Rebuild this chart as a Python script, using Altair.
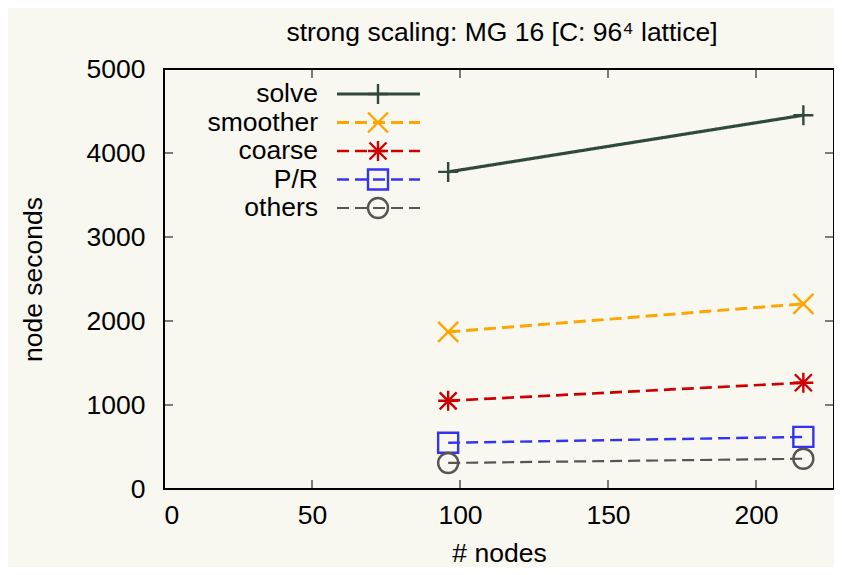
import altair as alt
import pandas as pd

# ---- data ----
nodes = [96, 216]
series = ["solve", "smoother", "coarse", "P/R", "others"]
solve = [3775, 4450]
smoother = [1870, 2205]
coarse = [1050, 1265]
pr = [550, 620]
others = [310, 360]

x_ticks = [0, 50, 100, 150, 200]
y_ticks = [0, 1000, 2000, 3000, 4000, 5000]

title_text = "strong scaling: MG 16 [C: 96\u2074 lattice]"

# ---- styles ----
colors = ["#2f4a3a", "#ffa500", "#cc0000", "#3434f0", "#555555"]
dashes = [[1, 0], [12, 6], [12, 6], [12, 6], [12, 6]]
widths = [3.2, 2.2, 2.2, 2.2, 2.2]
shapes = [
    "M-1,0H1M0,-1V1",
    "M-1,-1L1,1M-1,1L1,-1",
    "M-1,0H1M0,-1V1M-0.85,-0.85L0.85,0.85M-0.85,0.85L0.85,-0.85",
    "M-1,-1H1V1H-1Z",
    "circle",
]
FONT = "Liberation Sans"
FS = 26.5
W, H = 670, 420
XMAX = W / 2.96
YMAX = 5000

values = {"solve": solve, "smoother": smoother, "coarse": coarse, "P/R": pr, "others": others}
rows = []
for s in series:
    for n, v in zip(nodes, values[s]):
        rows.append({"series": s, "nodes": n, "value": v})
df = pd.DataFrame(rows)

color_sc = alt.Scale(domain=series, range=colors)
dash_sc = alt.Scale(domain=series, range=dashes)
width_sc = alt.Scale(domain=series, range=widths)
shape_sc = alt.Scale(domain=series, range=shapes)

x_enc = alt.X(
    "nodes:Q",
    scale=alt.Scale(domain=[0, XMAX], nice=False, zero=False),
    axis=alt.Axis(values=x_ticks, title="# nodes", ticks=False, tickSize=0, domain=False,
                  grid=False, labelFontSize=FS, labelPadding=13, titleFontSize=FS,
                  titleFontWeight="normal", titlePadding=12, labelFont=FONT, titleFont=FONT,
                  labelColor="black", titleColor="black", format="d"),
)
y_enc = alt.Y(
    "value:Q",
    scale=alt.Scale(domain=[0, YMAX], nice=False),
    axis=alt.Axis(values=y_ticks, title="node seconds", ticks=False, tickSize=0, domain=False,
                  grid=False, labelFontSize=FS, labelPadding=19, titleFontSize=FS,
                  titleFontWeight="normal", labelFont=FONT, titleFont=FONT,
                  labelColor="black", titleColor="black", titleX=-131, titleY=210,
                  titleBaseline="middle", titleAlign="center", format="d"),
)

base = alt.Chart(df)
lines = base.mark_line().encode(
    x=x_enc, y=y_enc,
    color=alt.Color("series:N", scale=color_sc, legend=None),
    strokeDash=alt.StrokeDash("series:N", scale=dash_sc, legend=None),
    strokeWidth=alt.StrokeWidth("series:N", scale=width_sc, legend=None),
    detail="series:N",
)
points = base.mark_point(filled=False, size=400, strokeWidth=2.4, opacity=1).encode(
    x="nodes:Q", y="value:Q",
    color=alt.Color("series:N", scale=color_sc, legend=None),
    shape=alt.Shape("series:N", scale=shape_sc, legend=None),
)

# ---- inward ticks (gnuplot style, mirrored) ----
xt = alt.Chart(pd.DataFrame({"nodes": x_ticks}))
yt = alt.Chart(pd.DataFrame({"value": y_ticks}))
tick_style = dict(color="black", strokeWidth=1)
xt_bot = xt.mark_rule(**tick_style).encode(x="nodes:Q", y=alt.value(H), y2=alt.value(H - 9))
xt_top = xt.mark_rule(**tick_style).encode(x="nodes:Q", y=alt.value(0), y2=alt.value(9))
yt_left = yt.mark_rule(**tick_style).encode(y="value:Q", x=alt.value(0), x2=alt.value(9))
yt_right = yt.mark_rule(**tick_style).encode(y="value:Q", x=alt.value(W), x2=alt.value(W - 9))

# ---- key (top-left inside the plot) ----
key = alt.Chart(pd.DataFrame({"series": series, "i": list(range(len(series)))})).transform_calculate(
    value=f"{YMAX} * (1 - (25 + 28.5 * datum.i) / {H})"
)
key_text = key.mark_text(align="right", baseline="middle", fontSize=FS, font=FONT, color="black").encode(
    x=alt.value(154), y="value:Q", text="series:N"
)
key_line = key.mark_rule().encode(
    x=alt.value(173), x2=alt.value(256), y="value:Q",
    color=alt.Color("series:N", scale=color_sc, legend=None),
    strokeDash=alt.StrokeDash("series:N", scale=dash_sc, legend=None),
    strokeWidth=alt.StrokeWidth("series:N", scale=width_sc, legend=None),
)
key_pt = key.mark_point(filled=False, size=400, strokeWidth=2.4, opacity=1).encode(
    x=alt.value(214), y="value:Q",
    color=alt.Color("series:N", scale=color_sc, legend=None),
    shape=alt.Shape("series:N", scale=shape_sc, legend=None),
)

chart = alt.layer(
    lines, points, xt_bot, xt_top, yt_left, yt_right, key_line, key_pt, key_text
).properties(
    width=W, height=H,
    title=alt.TitleParams(title_text, fontSize=FS, font=FONT, fontWeight="normal", color="black",
                          anchor="middle", offset=26, baseline="alphabetic", dx=3, dy=37),
    autosize=alt.AutoSizeParams(type="none"),
    padding={"left": 156, "top": 61, "right": 0, "bottom": 78},
    background="#f8f7f0",
).configure_view(stroke="black", strokeWidth=2)

chart.save("out.html", embed_options={"renderer": "svg", "actions": False})
